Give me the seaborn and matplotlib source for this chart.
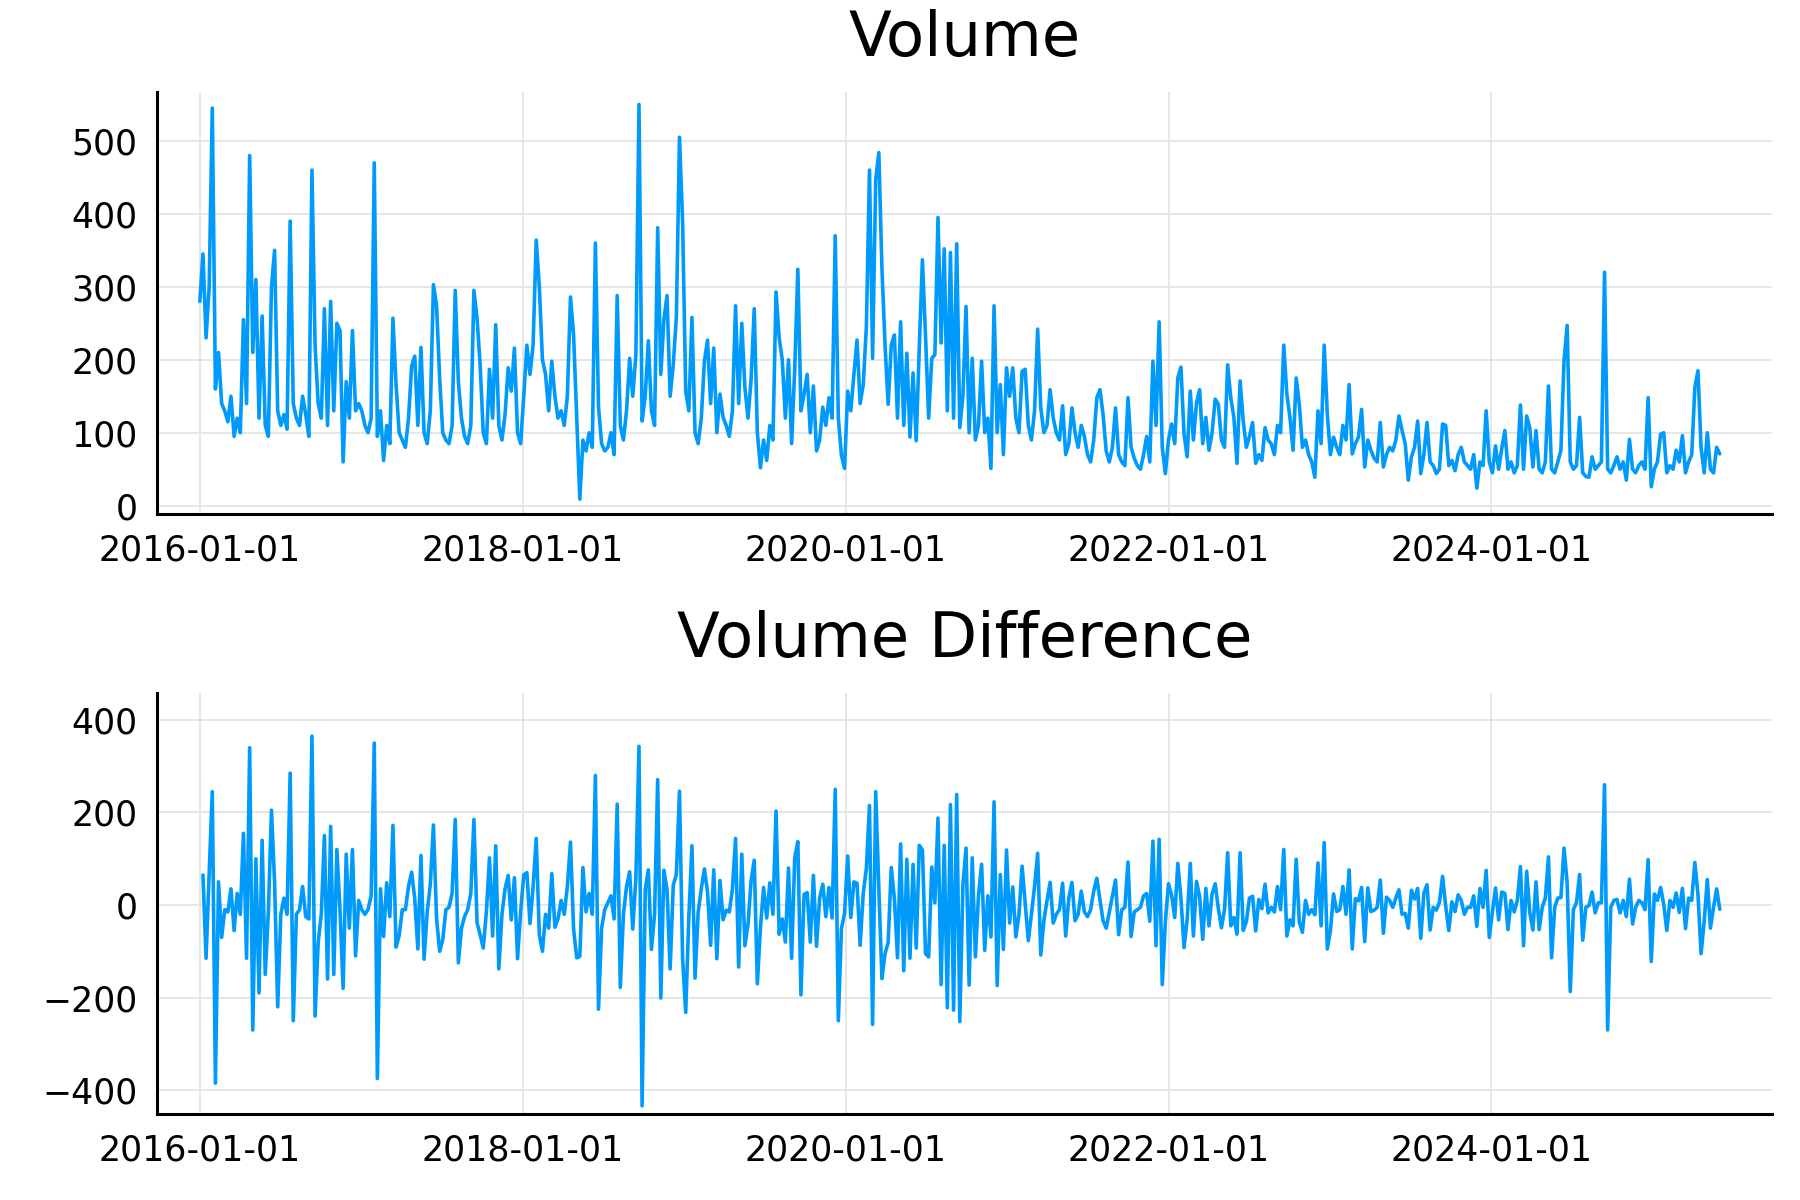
import numpy as np
import pandas as pd
import seaborn as sns
import matplotlib.pyplot as plt
import matplotlib.dates as mdates

# weekly volume, one list per year
vol_2016 = [280, 345, 230, 300, 545, 160, 210, 140, 130, 115, 150, 95, 120, 100, 255, 140, 480, 210, 310, 120,
            260, 110, 95, 300, 350, 130, 110, 125, 105, 390, 140, 120, 110, 150, 125, 95, 460, 220, 140, 120,
            270, 110, 280, 130, 250, 240, 60, 170, 120, 240, 130, 140]
vol_2017 = [130, 110, 100, 120, 470, 95, 130, 62, 110, 85, 257, 166, 100, 90, 80, 120, 191, 205, 110, 217,
            100, 85, 130, 303, 275, 175, 100, 90, 85, 110, 295, 170, 120, 95, 85, 110, 295, 257, 193, 100,
            85, 187, 120, 248, 110, 90, 125, 189, 157, 216, 100, 85]
vol_2018 = [150, 220, 180, 220, 364, 300, 200, 180, 130, 198, 150, 120, 130, 110, 150, 286, 234, 120, 9, 90,
            75, 100, 80, 360, 135, 85, 75, 80, 100, 70, 288, 110, 90, 130, 202, 150, 207, 550, 116, 150,
            226, 130, 110, 381, 180, 255, 288, 150, 193, 259, 505, 389]
vol_2019 = [157, 130, 258, 100, 85, 120, 198, 227, 140, 216, 100, 153, 121, 110, 95, 130, 274, 140, 250, 162,
            120, 173, 270, 100, 52, 90, 62, 110, 90, 293, 230, 200, 120, 200, 85, 187, 324, 130, 153, 180,
            100, 164, 75, 90, 135, 110, 148, 120, 370, 120, 69, 51]
vol_2020 = [157, 130, 180, 227, 140, 166, 245, 460, 202, 447, 484, 325, 220, 139, 220, 234, 120, 252, 110, 209,
            94, 182, 89, 218, 337, 232, 120, 202, 207, 395, 223, 352, 130, 347, 120, 359, 107, 150, 273, 100,
            202, 90, 110, 198, 100, 120, 51, 274, 100, 166, 70, 189]
vol_2021 = [150, 189, 120, 100, 184, 187, 110, 90, 130, 242, 134, 100, 110, 159, 120, 100, 90, 137, 70, 85,
            134, 100, 80, 110, 95, 70, 60, 90, 148, 159, 125, 75, 60, 80, 134, 70, 60, 55, 148, 80,
            65, 55, 50, 70, 95, 60, 198, 110, 252, 80, 44, 90]
vol_2022 = [112, 85, 175, 190, 98, 67, 157, 90, 141, 159, 85, 121, 76, 100, 146, 139, 90, 80, 193, 148,
            121, 58, 171, 116, 80, 95, 114, 58, 70, 62, 107, 90, 85, 70, 110, 100, 220, 153, 121, 76,
            175, 139, 80, 90, 70, 60, 39, 130, 85, 220, 125, 70]
vol_2023 = [94, 80, 70, 110, 90, 166, 71, 85, 94, 132, 53, 90, 76, 65, 60, 114, 53, 70, 80, 75,
            90, 123, 103, 85, 35, 67, 80, 116, 44, 70, 114, 60, 55, 44, 50, 112, 110, 55, 62, 48,
            70, 80, 60, 55, 50, 70, 24, 60, 55, 130, 60, 45]
vol_2024 = [82, 50, 78, 103, 50, 60, 45, 55, 138, 50, 123, 107, 53, 103, 50, 45, 60, 164, 50, 45,
            60, 76, 199, 247, 60, 50, 55, 121, 45, 40, 39, 67, 50, 55, 60, 320, 50, 45, 55, 67,
            50, 60, 35, 91, 50, 45, 55, 60, 50, 148, 26, 50]
vol_2025 = [60, 98, 100, 45, 55, 50, 76, 60, 96, 45, 60, 70, 162, 185, 80, 45, 100, 50, 45, 80, 71]

tick_dates = ["2016-01-01", "2018-01-01", "2020-01-01", "2022-01-01", "2024-01-01"]

volume = np.array(vol_2016 + vol_2017 + vol_2018 + vol_2019 + vol_2020 +
                  vol_2021 + vol_2022 + vol_2023 + vol_2024 + vol_2025, dtype=float)
dates = pd.date_range("2016-01-01", "2025-06-01", periods=len(volume))

df = pd.DataFrame({"Date": dates, "Volume": volume})
df_diff = pd.DataFrame({"Date": dates[1:], "Diff": np.diff(volume)})

sns.set_style("white")
plt.rcParams["font.family"] = ["DejaVu Sans"]
plt.rcParams["text.color"] = "black"
plt.rcParams["xtick.color"] = "black"
plt.rcParams["ytick.color"] = "black"

blue = "#009AFA"
fig = plt.figure(figsize=(18, 12), dpi=100)
ax1 = fig.add_axes([0.0872, 0.5713, 0.8972, 0.352])
ax2 = fig.add_axes([0.0872, 0.0715, 0.8972, 0.3513])

sns.lineplot(data=df, x="Date", y="Volume", ax=ax1, color=blue, lw=2.6, estimator=None)
sns.lineplot(data=df_diff, x="Date", y="Diff", ax=ax2, color=blue, lw=2.6, estimator=None)

xlo = pd.Timestamp("2016-01-01") - pd.Timedelta(days=97)
xhi = pd.Timestamp("2025-06-01") + pd.Timedelta(days=118)
ticks = pd.to_datetime(tick_dates)

for ax, title, yt, yl in [(ax1, "Volume", np.arange(0, 501, 100), (-12, 567)),
                          (ax2, "Volume Difference", np.arange(-400, 401, 200), (-452, 459))]:
    ax.set_title(title, fontsize=45, pad=26, color="black")
    ax.set_xlim(xlo, xhi)
    ax.set_ylim(*yl)
    ax.set_xticks(ticks)
    ax.xaxis.set_major_formatter(mdates.DateFormatter("%Y-%m-%d"))
    ax.set_yticks(yt)
    ax.set_xlabel("")
    ax.set_ylabel("")
    ax.grid(True, color="#e4e4e4", lw=1.3)
    ax.tick_params(axis="both", direction="in", length=11, width=2.2, labelsize=25,
                   color="black", labelcolor="black")
    ax.tick_params(axis="x", pad=14)
    ax.tick_params(axis="y", pad=14)
    for s in ["top", "right"]:
        ax.spines[s].set_visible(False)
    for s in ["left", "bottom"]:
        ax.spines[s].set_color("black")
        ax.spines[s].set_linewidth(2.2)

fig.savefig("out.png", dpi=100)
